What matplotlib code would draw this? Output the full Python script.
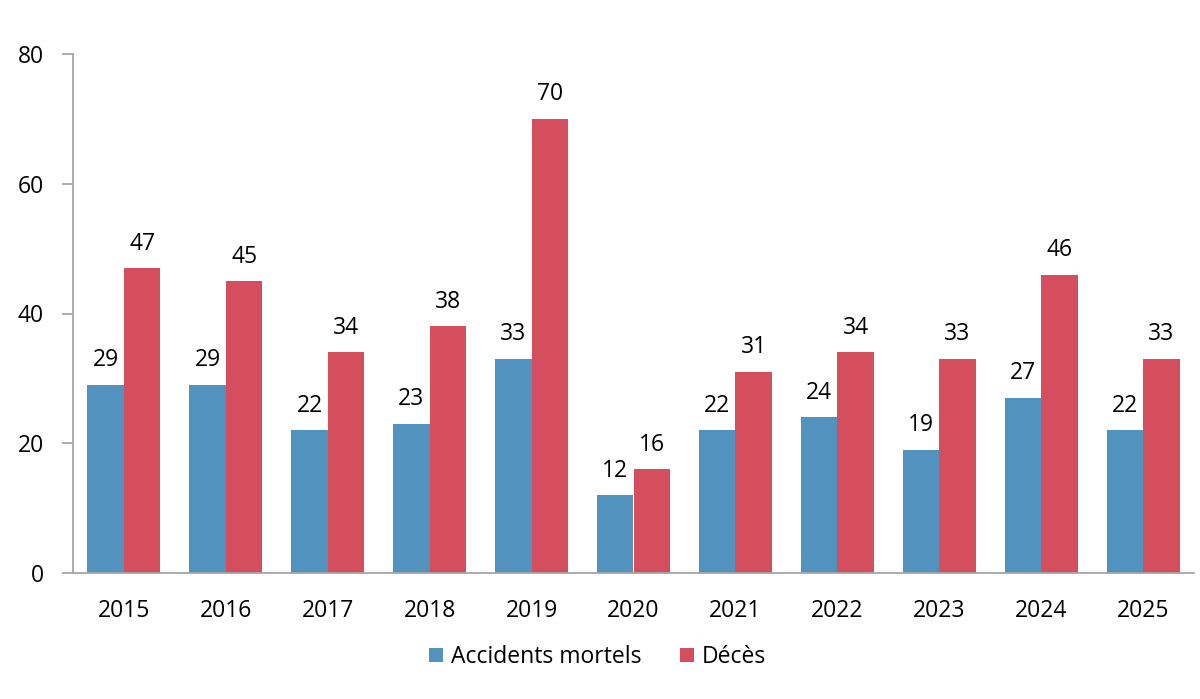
import matplotlib
matplotlib.use("Agg")
import matplotlib.pyplot as plt
import numpy as np

years = ["2015", "2016", "2017", "2018", "2019", "2020", "2021", "2022", "2023", "2024", "2025"]
accidents = [29, 29, 22, 23, 33, 12, 22, 24, 19, 27, 22]
deces = [47, 45, 34, 38, 70, 16, 31, 34, 33, 46, 33]

plt.rcParams['font.family'] = ['Open Sans', 'DejaVu Sans']

fig = plt.figure(figsize=(12, 6.99), dpi=100)
ax = fig.add_axes([73/1200, 1 - 573/699, (1194-73)/1200, (573-54)/699])

blue = "#5292BE"
red = "#D54E5D"
x = np.arange(len(years))
w = 0.358
b1 = ax.bar(x - w/2, accidents, w, color=blue, label="Accidents mortels")
b2 = ax.bar(x + w/2, deces, w, color=red, label="Décès")

fs = 16.5
for bars, vals in ((b1, accidents), (b2, deces)):
    for r, v in zip(bars, vals):
        ax.annotate(str(v), (r.get_x() + r.get_width()/2, v), xytext=(0, 9),
                    textcoords="offset points", ha="center", va="bottom", fontsize=fs, color="#000000")

ax.set_xlim(-0.5, len(years) - 0.5)
ax.set_ylim(0, 80)
ax.set_yticks([0, 20, 40, 60, 80])
ax.set_xticks(x)
ax.set_xticklabels(years)
for s in ["top", "right"]:
    ax.spines[s].set_visible(False)
for s in ["left", "bottom"]:
    ax.spines[s].set_color("#A6A6A6")
    ax.spines[s].set_linewidth(1.3)
ax.tick_params(axis="y", length=8, width=1.3, color="#A6A6A6", labelsize=fs, pad=13)
ax.tick_params(axis="x", length=0, labelsize=fs, pad=19)

ax.legend(loc="center", bbox_to_anchor=(0.468, -0.162), ncol=2, frameon=False,
          fontsize=fs, handlelength=0.6, handleheight=0.6, handletextpad=0.35, columnspacing=1.7)

fig.savefig("out.png", dpi=100)
